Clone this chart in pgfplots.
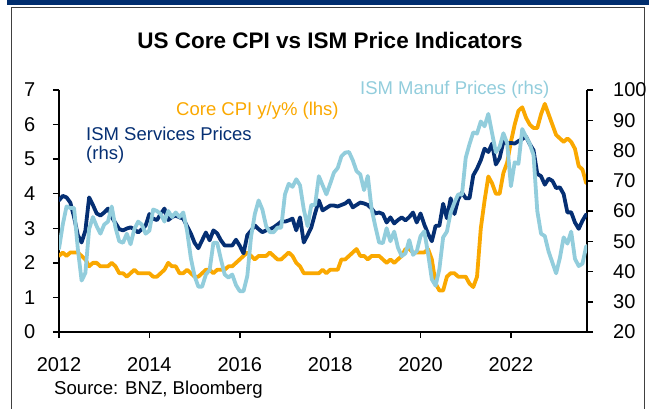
\documentclass[border=0pt]{standalone}
\usepackage{fontspec}
\setmainfont{Liberation Sans}
\usepackage{pgfplots}
\pgfplotsset{compat=1.18}
\usepackage{pgfplotstable}
\definecolor{navy}{RGB}{5,47,115}
\definecolor{cpiorange}{RGB}{250,168,0}
\definecolor{ltblue}{RGB}{146,205,220}
\definecolor{band}{RGB}{0,45,110}

% k = months since Dec 2011 (k=0 at the 2012 tick)
\pgfplotstableread{
k cpi ismm isms
0 2.2 47.5 63.5
1 2.3 55.5 65
2 2.2 61.5 64.5
3 2.3 61.0 62.8
4 2.3 61.0 58
5 2.3 47.5 52
6 2.2 37.0 49.6
7 2.1 39.5 53.5
8 1.9 54.0 64.5
9 2.0 58.0 62
10 2.0 55.0 59.2
11 1.9 52.5 58.5
12 1.9 55.5 59.5
13 1.9 56.5 60.8
14 2.0 61.5 58
15 1.9 54.5 56
16 1.7 50.0 54
17 1.7 49.5 53.6
18 1.6 52.5 54.2
19 1.7 49.0 54.6
20 1.8 54.0 54
21 1.7 56.5 52.9
22 1.7 55.5 54
23 1.7 52.5 55.2
24 1.7 53.5 59
25 1.6 60.5 57.5
26 1.6 60.0 57
27 1.7 59.0 59
28 1.8 56.5 60.8
29 2.0 60.0 57
30 1.9 58.0 58
31 1.9 59.5 58.5
32 1.7 58.0 57.9
33 1.7 59.5 57.5
34 1.8 53.5 55
35 1.7 44.5 52.6
36 1.6 38.5 49.5
37 1.6 35.0 47.7
38 1.7 35.0 50.3
39 1.8 39.0 52.9
40 1.8 40.5 50.3
41 1.7 49.5 53.6
42 1.8 49.5 52.6
43 1.8 44.0 50.3
44 1.8 39.0 48.6
45 1.9 38.0 48.6
46 1.9 39.0 48.6
47 2.0 35.5 50.5
48 2.1 33.5 48.5
49 2.2 33.5 46
50 2.3 38.5 52
51 2.2 51.5 53.5
52 2.1 59.0 55.2
53 2.2 63.5 54
54 2.2 60.5 53
55 2.2 55.0 53.6
56 2.3 53.0 54
57 2.2 53.0 54.6
58 2.1 54.5 55.5
59 2.1 54.5 56.5
60 2.2 65.5 56.5
61 2.3 69.0 56.9
62 2.2 68.0 57.5
63 2.0 70.5 53.6
64 1.9 68.5 57.9
65 1.7 60.5 49.6
66 1.7 55.0 52
67 1.7 62.0 54.6
68 1.7 62.0 59.2
69 1.7 71.5 63.5
70 1.8 68.5 60.2
71 1.7 65.5 61
72 1.8 69.0 61.8
73 1.8 72.7 61.8
74 1.8 74.2 61.5
75 2.1 78.1 62
76 2.1 79.3 62.5
77 2.2 79.5 63.5
78 2.3 76.8 61.2
79 2.4 73.2 62
80 2.2 72.1 62.8
81 2.2 66.9 62.5
82 2.1 71.6 62
83 2.2 60.7 60.8
84 2.2 54.9 59.2
85 2.2 49.6 59.5
86 2.1 49.4 59
87 2.0 54.3 56.2
88 2.1 50.0 57.9
89 2.0 53.2 55.9
90 2.1 47.9 57
91 2.2 45.1 57.9
92 2.4 46.0 56.9
93 2.4 50.4 58
94 2.3 45.5 59.5
95 2.3 46.7 56.2
96 2.3 51.7 59.2
97 2.3 53.3 55.5
98 2.4 45.9 52.5
99 2.1 37.4 50.0
100 1.4 35.3 55.1
101 1.2 40.8 55.1
102 1.2 51.3 62.4
103 1.6 53.2 57.6
104 1.7 59.5 64.2
105 1.7 62.8 59.0
106 1.6 65.5 63.9
107 1.6 65.4 66.1
108 1.6 77.6 64.2
109 1.4 82.1 64.2
110 1.3 86.0 71.8
111 1.6 85.6 74.0
112 3.0 89.6 76.8
113 3.8 88.0 80.6
114 4.5 92.1 79.5
115 4.3 85.7 82.3
116 4.0 79.4 75.4
117 4.0 81.2 77.5
118 4.6 85.7 82.9
119 4.9 82.4 82.3
120 5.5 68.2 82.5
121 6.0 76.1 82.3
122 6.4 75.6 83.1
123 6.5 87.1 83.8
124 6.2 84.6 84.6
125 6.0 82.2 82.1
126 5.9 78.5 80.1
127 5.9 60.0 72.3
128 6.3 52.5 71.5
129 6.6 51.7 68.7
130 6.3 46.6 70.7
131 6.0 43.0 70.0
132 5.7 39.4 67.6
133 5.6 44.5 67.8
134 5.5 51.3 65.6
135 5.6 49.2 59.5
136 5.5 53.2 59.6
137 5.3 44.2 56.2
138 4.8 41.8 54.1
139 4.7 42.6 56.8
140 4.3 48.4 58.9
}\datatable

\newcommand{\lbl}{\fontsize{18.5}{22}\selectfont}
\newcommand{\tck}{\fontsize{20}{24}\selectfont}

\pgfplotsset{
  chartbase/.style={
    at={(59pt,76pt)}, anchor=south west,
    scale only axis, width=528pt, height=242pt,
    xmin=0, xmax=140.2,
    axis line style={-, black, line width=1.5pt},
    tick style={black, line width=1.5pt},
    major tick length=6pt,
    tick align=outside,
    ticklabel style={font=\tck},
    /pgf/number format/assume math mode=true,
    /pgf/number format/1000 sep={},
    every axis plot/.append style={line width=3.8pt, line join=round, line cap=round},
  }
}

\begin{document}
\begin{tikzpicture}
\path[use as bounding box] (0pt,0pt) rectangle (649pt,408pt);
\fill[band] (7pt,403pt) rectangle (649pt,408pt);
\draw[black!75, line width=1pt] (11.5pt,-5pt) -- (11.5pt,400.5pt) -- (644.5pt,400.5pt) -- (644.5pt,-5pt);

\begin{axis}[chartbase,
  ymin=0, ymax=7,
  axis x line*=bottom, axis y line*=left,
  xtick={0,24,48,72,96,120},
  xticklabels={2012,2014,2016,2018,2020,2022},
  ytick={0,1,...,7},
  xticklabel style={anchor=base, inner sep=0pt, yshift=-33pt},
  yticklabel style={anchor=east, inner sep=0pt, xshift=-17.5pt},
]
\addplot[cpiorange] table[x=k, y=cpi]{\datatable};
\end{axis}

\begin{axis}[chartbase,
  ymin=20, ymax=100,
  axis y line*=right, axis x line=none,
  ytick={20,30,...,100},
  yticklabel style={anchor=west, inner sep=0pt, xshift=20pt},
]
\addplot[navy] table[x=k, y=isms]{\datatable};
\addplot[ltblue] table[x=k, y=ismm]{\datatable};
\end{axis}

\node[anchor=base, inner sep=0pt, font=\fontsize{22.5}{27}\selectfont\bfseries] at (330pt,359pt) {US Core CPI vs ISM Price Indicators};
\node[anchor=base west, inner sep=0pt, text=cpiorange, font=\lbl] at (176pt,292pt) {Core CPI y/y\% (lhs)};
\node[anchor=base west, inner sep=0pt, text=ltblue, font=\lbl] at (360pt,313pt) {ISM Manuf Prices (rhs)};
\node[anchor=base west, inner sep=0pt, text=navy, font=\lbl] at (86pt,267pt) {ISM Services Prices};
\node[anchor=base west, inner sep=0pt, text=navy, font=\lbl] at (86pt,248pt) {(rhs)};
\node[anchor=base west, inner sep=0pt, font=\fontsize{18.6}{22}\selectfont] at (54pt,14pt) {Source: BNZ, Bloomberg};
\end{tikzpicture}
\end{document}
